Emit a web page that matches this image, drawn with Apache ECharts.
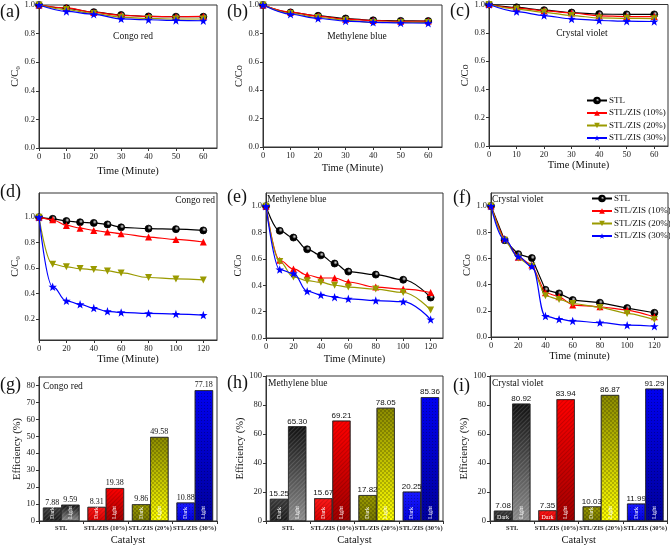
<!DOCTYPE html>
<html><head><meta charset="utf-8">
<script src="https://cdn.jsdelivr.net/npm/echarts@6/dist/echarts.min.js"></script>
<style>html,body{margin:0;padding:0;background:#fff}#c{width:670px;height:547px}</style>
</head><body><div id="c"></div>
<script>
// ---------- data ----------
const seriesNames = ['STL', 'STL/ZIS (10%)', 'STL/ZIS (20%)', 'STL/ZIS (30%)'];
const timeShort = [0, 10, 20, 30, 40, 50, 60];
const timeLong = [0, 10, 20, 30, 40, 50, 60, 80, 100, 120];
const xTicksShort = [0, 10, 20, 30, 40, 50, 60];
const xTicksLong = [0, 20, 40, 60, 80, 100, 120];
const yTicksFull = [0, 0.2, 0.4, 0.6, 0.8, 1.0];
const yTicksD = [0.2, 0.4, 0.6, 0.8, 1.0];

// (a) Congo red, dark
const aSTL   = [1.0, 0.977, 0.950, 0.930, 0.920, 0.918, 0.918];
const aZIS10 = [1.0, 0.980, 0.948, 0.928, 0.920, 0.918, 0.920];
const aZIS20 = [1.0, 0.968, 0.940, 0.915, 0.906, 0.902, 0.902];
const aZIS30 = [1.0, 0.955, 0.935, 0.903, 0.897, 0.892, 0.890];
// (b) Methylene blue, dark
const bSTL   = [1.0, 0.948, 0.924, 0.905, 0.892, 0.888, 0.887];
const bZIS10 = [1.0, 0.950, 0.922, 0.900, 0.890, 0.885, 0.887];
const bZIS20 = [1.0, 0.940, 0.912, 0.892, 0.877, 0.877, 0.877];
const bZIS30 = [1.0, 0.935, 0.905, 0.887, 0.878, 0.874, 0.872];
// (c) Crystal violet, dark
const cSTL   = [1.0, 0.980, 0.960, 0.943, 0.932, 0.930, 0.930];
const cZIS10 = [1.0, 0.975, 0.955, 0.940, 0.920, 0.915, 0.915];
const cZIS20 = [1.0, 0.968, 0.945, 0.922, 0.905, 0.902, 0.900];
const cZIS30 = [1.0, 0.950, 0.922, 0.898, 0.887, 0.882, 0.880];
// (d) Congo red, light
const dSTL   = [1.0, 0.987, 0.970, 0.960, 0.955, 0.943, 0.920, 0.910, 0.906, 0.896];
const dZIS10 = [1.0, 0.980, 0.935, 0.914, 0.896, 0.883, 0.870, 0.844, 0.825, 0.805];
const dZIS20 = [1.0, 0.630, 0.610, 0.596, 0.588, 0.578, 0.562, 0.526, 0.515, 0.507];
const dZIS30 = [1.0, 0.453, 0.343, 0.315, 0.286, 0.260, 0.252, 0.244, 0.239, 0.231];
// (e) Methylene blue, light
const eSTL   = [1.0, 0.813, 0.762, 0.673, 0.627, 0.565, 0.504, 0.481, 0.442, 0.307];
const eZIS10 = [1.0, 0.590, 0.524, 0.478, 0.455, 0.455, 0.425, 0.386, 0.371, 0.345];
const eZIS20 = [1.0, 0.580, 0.463, 0.435, 0.422, 0.400, 0.386, 0.371, 0.345, 0.212];
const eZIS30 = [1.0, 0.519, 0.490, 0.355, 0.327, 0.310, 0.297, 0.284, 0.276, 0.140];
// (f) Crystal violet, light
const fSTL   = [1.0, 0.740, 0.633, 0.603, 0.360, 0.333, 0.282, 0.262, 0.221, 0.185];
const fZIS10 = [1.0, 0.750, 0.610, 0.550, 0.338, 0.308, 0.244, 0.231, 0.205, 0.154];
const fZIS20 = [1.0, 0.740, 0.603, 0.540, 0.315, 0.287, 0.256, 0.226, 0.180, 0.133];
const fZIS30 = [1.0, 0.745, 0.615, 0.540, 0.160, 0.136, 0.123, 0.110, 0.090, 0.082];

// bars: efficiency (%)
const catalysts = ['STL', 'STL/ZIS (10%)', 'STL/ZIS (20%)', 'STL/ZIS (30%)'];
const gDark  = [7.88, 8.31, 9.86, 10.88];
const gLight = [9.59, 19.38, 49.58, 77.18];
const hDark  = [15.25, 15.67, 17.82, 20.25];
const hLight = [65.30, 69.21, 78.05, 85.36];
const iDark  = [7.08, 7.35, 10.03, 11.99];
const iLight = [80.92, 83.94, 86.87, 91.29];
const yTicksG = [0, 10, 20, 30, 40, 50, 60, 70, 80];
const yTicksHI = [0, 20, 40, 60, 80, 100];

// ---------- styling ----------
const F = '"Liberation Serif", "Times New Roman", serif';
const FS = '"Liberation Sans", Arial, sans-serif';
const AX = '#333';
const lineColors = ['#000000', '#ff0000', '#9a9a00', '#0000ff'];
const STAR = 'path://M0,-10L2.35,-3.24L9.51,-3.09L3.8,1.24L5.88,8.09L0,4L-5.88,8.09L-3.8,1.24L-9.51,-3.09L-2.35,-3.24Z';
const TRI_DOWN = 'path://M0,0L10,0L5,8.66Z';
const symbols = ['circle', 'triangle', TRI_DOWN, STAR];
const symbolSizes = [7, 7, 7, 8.5];
const stlFill = {type: 'radial', x: 0.62, y: 0.38, r: 0.55,
  colorStops: [{offset: 0, color: '#d8d8d8'}, {offset: 0.25, color: '#777777'}, {offset: 0.5, color: '#000000'}, {offset: 1, color: '#000000'}]};

const linePanels = [
  {grid: {left: 39, top: 5, width: 178, height: 143}, t: timeShort, d: [aSTL, aZIS10, aZIS20, aZIS30], xMax: 65, xTicks: xTicksShort, yMin: 0, yMax: 1.0, yTicks: yTicksFull, yName: 'C/C\u2080', xName: 'Time (Minute)', xGap: 18, yGap: 17, smooth: [0.3, 0.3, 0.3, 0.3]},
  {grid: {left: 263, top: 5, width: 179, height: 142}, t: timeShort, d: [bSTL, bZIS10, bZIS20, bZIS30], xMax: 65, xTicks: xTicksShort, yMin: 0, yMax: 1.0, yTicks: yTicksFull, yName: 'C/Co', xName: 'Time (Minute)', xGap: 16, yGap: 18, smooth: [0.3, 0.3, 0.3, 0.3]},
  {grid: {left: 489, top: 3, width: 179, height: 143}, t: timeShort, d: [cSTL, cZIS10, cZIS20, cZIS30], xMax: 65, xTicks: xTicksShort, yMin: 0, yMax: 1.0, yTicks: yTicksFull, yName: 'C/Co', xName: 'Time (Minute)', xGap: 14, yGap: 16, smooth: [0.3, 0.3, 0.3, 0.3]},
  {grid: {left: 39, top: 193, width: 178, height: 147}, t: timeLong, d: [dSTL, dZIS10, dZIS20, dZIS30], xMax: 130, xTicks: xTicksLong, yMin: 0.035, yMax: 1.19, yTicks: yTicksD, yName: 'C/C\u2080', xName: 'Time (Minute)', xGap: 13, yGap: 17, smooth: [0.3, 0.3, 0.45, 0.45]},
  {grid: {left: 266, top: 193, width: 177, height: 145}, t: timeLong, d: [eSTL, eZIS10, eZIS20, eZIS30], xMax: 129, xTicks: xTicksLong, yMin: 0, yMax: 1.1, yTicks: yTicksFull, yName: 'C/Co', xName: 'Time (Minute)', xGap: 16, yGap: 22, smooth: [0.4, 0.4, 0.4, 0.4]},
  {grid: {left: 491, top: 193, width: 177, height: 144}, t: timeLong, d: [fSTL, fZIS10, fZIS20, fZIS30], xMax: 130, xTicks: xTicksLong, yMin: 0, yMax: 1.1, yTicks: yTicksFull, yName: 'C/Co', xName: 'Time (minute)', xGap: 14, yGap: 17, smooth: [0, 0.15, 0.2, 0.45]}
];

function lg(top, bottom) {
  return {type: 'linear', x: 0, y: 0, x2: 0, y2: 1, colorStops: [{offset: 0, color: top}, {offset: 1, color: bottom}]};
}
const darkFills = [lg('#3a3a3a', '#1a1a1a'), lg('#ff1a1a', '#d80000'), lg('#9a9a00', '#7a7a00'), lg('#1a1aff', '#0000d8')];
const lightFills = [lg('#111111', '#8a8a8a'), lg('#ff0000', '#a00000'), lg('#8a8a00', '#ffff00'), lg('#0000f0', '#00009a')];
const decals = [
  {symbol: 'rect', symbolSize: 1, color: 'rgba(255,255,255,0.14)', dashArrayX: [1, 0], dashArrayY: [1, 2], rotation: -Math.PI / 4},
  {symbol: 'rect', symbolSize: 1, color: 'rgba(0,0,0,0.16)', dashArrayX: [1, 0], dashArrayY: [1, 2], rotation: -Math.PI / 4},
  {symbol: 'rect', symbolSize: 1, color: 'rgba(0,0,0,0.2)', dashArrayX: [[2, 2], [0, 2, 2, 0]], dashArrayY: [2, 0]},
  {symbol: 'rect', symbolSize: 1, color: 'rgba(0,0,0,0.28)', dashArrayX: [[1, 2]], dashArrayY: [1, 2]}
];

const barPanels = [
  {grid: {left: 39, top: 377, width: 178, height: 145}, dark: gDark, light: gLight, yMax: 85, yTicks: yTicksG, yGap: 16, valFont: F, darkRot: [90, 90, 90, 90]},
  {grid: {left: 266, top: 376, width: 177, height: 146}, dark: hDark, light: hLight, yMax: 100, yTicks: yTicksHI, yGap: 17, valFont: FS, darkRot: [90, 90, 90, 90]},
  {grid: {left: 490, top: 376, width: 178, height: 146}, dark: iDark, light: iLight, yMax: 100, yTicks: yTicksHI, yGap: 16, valFont: FS, darkRot: [0, 0, 90, 90]}
];

const grids = [], xAxes = [], yAxes = [], series = [];
const gridBase = {show: true, borderColor: AX, borderWidth: 1, backgroundColor: 'transparent', containLabel: false};
const nameStyle = {fontFamily: F, fontSize: 10.5, color: '#111'};
const tickLabel = {fontFamily: F, fontSize: 8.5, color: '#222'};

linePanels.forEach((p, k) => {
  grids.push(Object.assign({}, gridBase, p.grid));
  xAxes.push({type: 'value', gridIndex: k, min: 0, max: p.xMax,
    axisLine: {show: true, lineStyle: {color: AX}},
    axisTick: {show: true, customValues: p.xTicks, length: 3, lineStyle: {color: AX}},
    axisLabel: Object.assign({customValues: p.xTicks, margin: 4}, tickLabel),
    splitLine: {show: false},
    name: p.xName, nameLocation: 'middle', nameGap: p.xGap, nameTextStyle: nameStyle});
  yAxes.push({type: 'value', gridIndex: k, min: p.yMin, max: p.yMax,
    axisLine: {show: true, lineStyle: {color: AX}},
    axisTick: {show: true, customValues: p.yTicks, length: 3, lineStyle: {color: AX}},
    axisLabel: Object.assign({customValues: p.yTicks, margin: 4, formatter: v => v.toFixed(1)}, tickLabel),
    splitLine: {show: false},
    name: p.yName, nameLocation: 'middle', nameRotate: 90, nameGap: p.yGap, nameTextStyle: nameStyle});
  p.d.forEach((vals, s) => {
    series.push({type: 'line', name: seriesNames[s], xAxisIndex: k, yAxisIndex: k,
      data: p.t.map((t, j) => [t, vals[j]]),
      smooth: p.smooth[s], smoothMonotone: 'x',
      symbol: symbols[s], symbolSize: symbolSizes[s], clip: false,
      lineStyle: {color: lineColors[s], width: 1.2},
      itemStyle: {color: s === 0 ? stlFill : lineColors[s], borderColor: lineColors[s], borderWidth: s === 0 ? 0.8 : 0},
      z: 2 + s});
  });
});

barPanels.forEach((p, b) => {
  const k = 6 + b;
  grids.push(Object.assign({}, gridBase, p.grid));
  xAxes.push({type: 'category', gridIndex: k, data: catalysts,
    axisLine: {show: true, lineStyle: {color: AX}},
    axisTick: {show: true, length: 3, lineStyle: {color: AX}},
    axisLabel: {interval: 0, fontFamily: F, fontSize: 6.5, fontWeight: 'bold', color: '#222', margin: 4},
    name: 'Catalyst', nameLocation: 'middle', nameGap: 14, nameTextStyle: nameStyle});
  yAxes.push({type: 'value', gridIndex: k, min: 0, max: p.yMax,
    axisLine: {show: true, lineStyle: {color: AX}},
    axisTick: {show: true, customValues: p.yTicks, length: 3, lineStyle: {color: AX}},
    axisLabel: Object.assign({customValues: p.yTicks, margin: 4}, tickLabel),
    splitLine: {show: false},
    name: 'Efficiency (%)', nameLocation: 'middle', nameRotate: 90, nameGap: p.yGap, nameTextStyle: nameStyle});
  const common = {type: 'bar', xAxisIndex: k, yAxisIndex: k, barGap: '0%', barCategoryGap: '18%', stackStrategy: 'all'};
  series.push(Object.assign({}, common, {name: 'Dark', stack: 'dark' + b,
    data: p.dark.map((v, i) => ({value: v, itemStyle: {color: darkFills[i], decal: decals[i], borderColor: '#222', borderWidth: 0.6},
      label: p.darkRot[i] === 0 ? {rotate: 0, align: 'center', verticalAlign: 'bottom', distance: 1} : {}})),
    label: {show: true, position: 'insideBottom', rotate: 90, align: 'left', verticalAlign: 'middle', distance: 2,
      formatter: 'Dark', color: '#fff', fontFamily: F, fontSize: 6}}));
  series.push(Object.assign({}, common, {name: 'DarkVal', stack: 'dark' + b,
    data: p.dark.map(() => 0), itemStyle: {color: 'transparent', borderWidth: 0},
    label: {show: true, position: 'top', distance: 1, formatter: q => p.dark[q.dataIndex].toFixed(2), color: '#111', fontFamily: p.valFont, fontSize: 8}}));
  series.push(Object.assign({}, common, {name: 'Light', stack: 'light' + b,
    data: p.light.map((v, i) => ({value: v, itemStyle: {color: lightFills[i], decal: decals[i], borderColor: '#222', borderWidth: 0.6}})),
    label: {show: true, position: 'insideBottom', rotate: 90, align: 'left', verticalAlign: 'middle', distance: 2,
      formatter: 'Light', color: '#fff', fontFamily: F, fontSize: 6}}));
  series.push(Object.assign({}, common, {name: 'LightVal', stack: 'light' + b,
    data: p.light.map(() => 0), itemStyle: {color: 'transparent', borderWidth: 0},
    label: {show: true, position: 'top', distance: 1, formatter: q => p.light[q.dataIndex].toFixed(2), color: '#111', fontFamily: p.valFont, fontSize: 8}}));
});

function txt(x, y, text, size, align, extra) {
  return {type: 'text', x: x, y: y, silent: true,
    style: Object.assign({text: text, font: size + 'px ' + F, fill: '#111', align: align || 'left', verticalAlign: 'middle'}, extra || {})};
}
const graphics = [
  txt(0, 12, '(a)', 18), txt(227, 12, '(b)', 18), txt(450, 11, '(c)', 18),
  txt(0, 192, '(d)', 18), txt(227, 197, '(e)', 18), txt(453, 198, '(f)', 18),
  txt(0, 385, '(g)', 18), txt(227, 383, '(h)', 18), txt(453, 386, '(i)', 18),
  txt(133, 36, 'Congo red', 9.5, 'center'),
  txt(357, 36, 'Methylene blue', 9.5, 'center'),
  txt(582, 33, 'Crystal violet', 9.5, 'center'),
  txt(215, 200, 'Congo red', 9.5, 'right'),
  txt(267, 199, 'Methylene blue', 9.5, 'left'),
  txt(492, 199, 'Crystal violet', 9.5, 'left'),
  txt(43, 386, 'Congo red', 9.5, 'left'),
  txt(268, 383, 'Methylene blue', 9.5, 'left'),
  txt(492, 383, 'Crystal violet', 9.5, 'left')
];

const legendBase = {orient: 'vertical', data: seriesNames, itemWidth: 20, itemHeight: 7, itemGap: 3.5,
  textStyle: {fontFamily: F, fontSize: 9, color: '#111', padding: [0, 0, 0, -3]}, padding: 0, selectedMode: false};

const chart = echarts.init(document.getElementById('c'), null, {renderer: 'canvas'});
chart.setOption({
  animation: false,
  backgroundColor: '#ffffff',
  grid: grids, xAxis: xAxes, yAxis: yAxes, series: series,
  legend: [
    Object.assign({}, legendBase, {left: 586, top: 96}),
    Object.assign({}, legendBase, {left: 591, top: 194})
  ],
  graphic: graphics
});
</script></body></html>
